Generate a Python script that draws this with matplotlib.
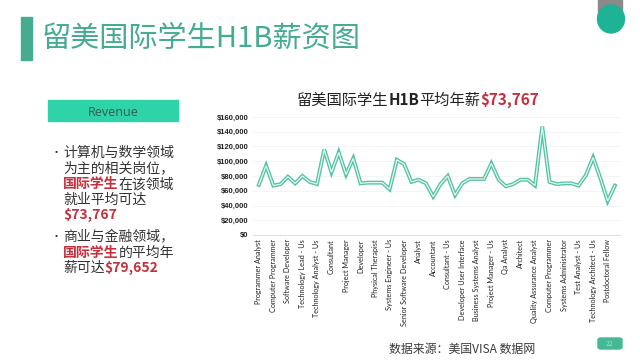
import matplotlib
matplotlib.use("Agg")
import matplotlib.pyplot as plt
from matplotlib.patches import Rectangle, Ellipse, FancyBboxPatch

plt.rcParams["font.family"] = ["Noto Sans CJK SC", "DejaVu Sans"]

W, H = 640, 360
TEAL = "#45ab91"
MINT = "#2fd3a8"
RED = "#c4303c"
DARK = "#333333"

PAGE_TITLE = "留美国际学生H1B薪资图"
CHART_TITLE_RUNS = [("留美国际学生", "#222222", "normal"), ("H1B", "#222222", "bold"),
                    ("平均年薪", "#222222", "normal"), ("$73,767", RED, "bold")]
SOURCE_TEXT = "数据来源：美国VISA 数据网"

JOB_LABELS = [
    "Programmer Analyst", "Computer Programmer", "Software Developer",
    "Technology Lead - Us", "Technology Analyst - Us", "Consultant",
    "Project Manager", "Developer", "Physical Therapist",
    "Systems Engineer - Us", "Senior Software Developer", "Analyst",
    "Accountant", "Consultant - Us", "Developer User Interface",
    "Business Systems Analyst", "Project Manager - Us", "Qa Analyst",
    "Architect", "Quality Assurance Analyst", "Computer Programmer",
    "Systems Administrator", "Test Analyst - Us", "Technology Architect - Us",
    "Postdoctoral Fellow",
]

SALARIES = [
    68000, 94000, 67000, 69000, 79000, 70000, 80000, 72000, 69000, 116000,
    85000, 112000, 82000, 104000, 70000, 71000, 71000, 71000, 62000, 102000,
    96000, 72000, 75000, 70000, 52000, 69000, 80000, 54000, 70000, 76000,
    76000, 76000, 97000, 75000, 66000, 69000, 75000, 75000, 67000, 147000,
    72000, 69000, 70000, 70000, 67000, 81000, 105000, 77000, 46000, 67000,
]

Y_TICKS = [0, 20000, 40000, 60000, 80000, 100000, 120000, 140000, 160000]

BULLETS = [
    [[("计算机与数学领域", DARK, "normal")],
     [("为主的相关岗位，", DARK, "normal")],
     [("国际学生", RED, "bold"), ("在该领域", DARK, "normal")],
     [("就业平均可达", DARK, "normal")],
     [("$73,767", RED, "bold")]],
    [[("商业与金融领域，", DARK, "normal")],
     [("国际学生", RED, "bold"), ("的平均年", DARK, "normal")],
     [("薪可达", DARK, "normal"), ("$79,652", RED, "bold")]],
]


def fx(px):
    return px / W


def fy(py):
    return 1 - py / H


def draw_runs(fig, x, y, runs, size, ha="left"):
    renderer = fig.canvas.get_renderer()
    texts = []
    cur = fx(x)
    for s, color, weight in runs:
        t = fig.text(cur, fy(y), s, color=color, fontweight=weight,
                     fontsize=size, va="center", ha="left")
        cur += t.get_window_extent(renderer).width / W
        texts.append(t)
    if ha == "center":
        shift = (cur - fx(x)) / 2
        for t in texts:
            px, py = t.get_position()
            t.set_position((px - shift, py))


fig = plt.figure(figsize=(6.4, 3.6), dpi=100)
fig.patch.set_facecolor("white")

# header
fig.patches.append(Rectangle((fx(21), fy(60)), fx(11), 43 / H, color=TEAL,
                             transform=fig.transFigure))
fig.text(fx(42), fy(39), PAGE_TITLE, fontsize=21, color=TEAL,
         fontweight="light", va="center")
fig.patches.append(Rectangle((fx(598), fy(15)), fx(24), 15 / H, color="#8a8a8a",
                             transform=fig.transFigure))
fig.patches.append(Ellipse((fx(611), fy(19)), fx(27), 28 / H, color="#1db394",
                           transform=fig.transFigure))

# left panel
fig.patches.append(Rectangle((fx(48), fy(121)), fx(130), 21 / H, color=MINT,
                             transform=fig.transFigure))
fig.text(fx(113), fy(111), "Revenue", fontsize=9, color="#2b5f52",
         ha="center", va="center_baseline", family=["Open Sans", "DejaVu Sans"])

line_y = [[153, 168, 184, 200, 215], [237, 253, 268]]
for block, ys in zip(BULLETS, line_y):
    fig.text(fx(51), fy(ys[0]), "•", fontsize=8, color=DARK, va="center")
    for runs, y in zip(block, ys):
        draw_runs(fig, 63, y, runs, 10)

# chart
ax = fig.add_axes([fx(253), fy(235), fx(620 - 253), (235 - 117) / H])
x = list(range(len(SALARIES)))
ax.plot(x, SALARIES, color="#55c2a6", lw=2.8, solid_joinstyle="miter", zorder=3)
ax.plot(x, SALARIES, color="#e6f8f2", lw=0.9, solid_joinstyle="miter", zorder=4)
ax.set_xlim(-0.8, 49.7)
ax.set_ylim(0, 160000)
ax.set_yticks(Y_TICKS)
ax.set_yticklabels([f"${v:,}" for v in Y_TICKS], fontsize=5.5,
                   fontweight="bold", color="#222222",
                   family=["Liberation Sans", "DejaVu Sans"])
ax.set_xticks(range(0, len(SALARIES), 2))
ax.set_xticklabels(JOB_LABELS, rotation=90, fontsize=5.2, color="#222222",
                   family=["Lato", "DejaVu Sans"])
ax.tick_params(length=0, pad=3)
ax.grid(axis="y", color="#f2f2f2", lw=0.6)
for side in ["top", "right", "left"]:
    ax.spines[side].set_visible(False)
ax.spines["bottom"].set_color("#e0e0e0")

draw_runs(fig, 418, 100, CHART_TITLE_RUNS, 11, ha="center")

# footer
fig.text(fx(389), fy(349), SOURCE_TEXT, fontsize=8.6, color="#3a3a3a", va="center")
fig.patches.append(FancyBboxPatch((fx(598), fy(349)), fx(24), 11 / H,
                                  boxstyle="round,pad=0,rounding_size=0.005",
                                  color="#45b896", transform=fig.transFigure))
fig.text(fx(610), fy(343.5), "22", fontsize=5, color="#9fe0cb",
         ha="center", va="center")

fig.savefig("out.png", dpi=100)
